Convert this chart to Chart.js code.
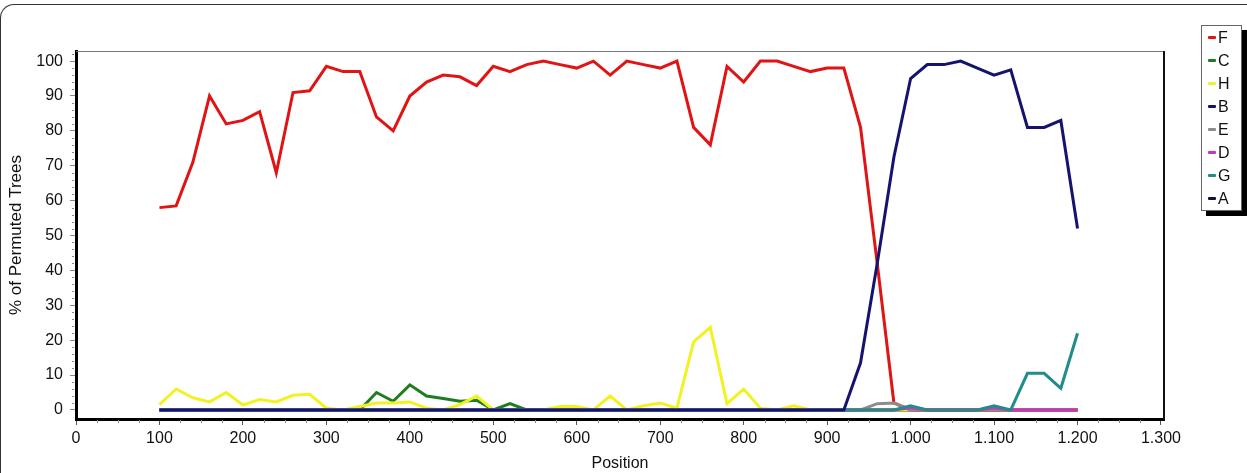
<!DOCTYPE html>
<html>
<head>
<meta charset="utf-8">
<script src="https://cdn.jsdelivr.net/npm/chart.js@4.4.1/dist/chart.umd.min.js"></script>
<style>
  html, body { margin: 0; padding: 0; background: #fff; overflow: hidden; }
  #wrap { position: relative; width: 1247px; height: 473px; }
  #frame { position: absolute; left: 0; top: 4px; width: 1300px; height: 600px;
    border-top: 1.5px solid #333; border-left: 1.5px solid #333; border-top-left-radius: 14px; }
  #legend { position: absolute; left: 1201px; top: 25px; width: 39px; height: 184px;
    border: 1px solid #666; box-shadow: 5px 5px 0 #000; background: #fff;
    font: 16px "Liberation Sans", Arial, sans-serif; color: #111; }
  .row { height: 23px; display: flex; align-items: center; }
  .mk { width: 8px; height: 3px; margin: 0 2px 0 6px; border-radius: 1px; }
  canvas { position: absolute; left: 0; top: 0; }
</style>
</head>
<body>
<div id="wrap">
  <div id="frame"></div>
  <canvas id="chart" width="1247" height="473"></canvas>
  <div id="legend"></div>
</div>
<script>
// positions along the alignment (window midpoints)
const positions = [100, 120, 140, 160, 180, 200, 220, 240, 260, 280, 300, 320, 340, 360, 380, 400, 420, 440, 460, 480,
  500, 520, 540, 560, 580, 600, 620, 640, 660, 680, 700, 720, 740, 760, 780, 800, 820, 840, 860, 880,
  900, 920, 940, 960, 980, 1000, 1020, 1040, 1060, 1080, 1100, 1120, 1140, 1160, 1180, 1200];

const seriesF = [58, 58.5, 71, 90, 82, 83, 85.5, 68, 91, 91.5, 98.5, 97, 97, 84, 80, 90, 94, 96, 95.5, 93,
  98.5, 97, 99, 100, 99, 98, 100, 96, 100, 99, 98, 100, 81, 76, 98.5, 94, 100, 100, 98.5, 97,
  98, 98, 81, 42, 2, 0, 0, 0, 0, 0, 0, 0, 0, 0, 0, 0];
const seriesC = [0, 0, 0, 0, 0, 0, 0, 0, 0, 0, 0, 0, 0, 5, 2.5, 7.2, 4, 3.3, 2.5, 2.8,
  0, 1.8, 0, 0, 0, 0, 0, 0, 0, 0, 0, 0, 0, 0, 0, 0, 0, 0, 0, 0,
  0, 0, 0, 0, 0, 0, 0, 0, 0, 0, 0, 0, 0, 0, 0, 0];
const seriesH = [1.5, 6, 3.5, 2.3, 5, 1.4, 3, 2.3, 4.2, 4.5, 0.5, 0, 1, 2, 2, 2.3, 0.5, 0, 1.5, 4,
  0, 0, 0, 0, 1, 1, 0, 4, 0, 1.2, 2, 0.5, 19.5, 23.7, 1.8, 6, 0.5, 0, 1.2, 0,
  0, 0, 0, 0, 0, 0, 0, 0, 0, 0, 0, 0, 0, 0, 0, 0];
const seriesB = [0, 0, 0, 0, 0, 0, 0, 0, 0, 0, 0, 0, 0, 0, 0, 0, 0, 0, 0, 0,
  0, 0, 0, 0, 0, 0, 0, 0, 0, 0, 0, 0, 0, 0, 0, 0, 0, 0, 0, 0,
  0, 0, 13.5, 42, 72.5, 95, 99, 99, 100, 98, 96, 97.5, 81, 81, 83, 52];
const seriesE = [0, 0, 0, 0, 0, 0, 0, 0, 0, 0, 0, 0, 0, 0, 0, 0, 0, 0, 0, 0,
  0, 0, 0, 0, 0, 0, 0, 0, 0, 0, 0, 0, 0, 0, 0, 0, 0, 0, 0, 0,
  0, 0, 0, 1.8, 2, 0, 0, 0, 0, 0, 0, 0, 0, 0, 0, 0];
const seriesD = [0, 0, 0, 0, 0, 0, 0, 0, 0, 0, 0, 0, 0, 0, 0, 0, 0, 0, 0, 0,
  0, 0, 0, 0, 0, 0, 0, 0, 0, 0, 0, 0, 0, 0, 0, 0, 0, 0, 0, 0,
  0, 0, 0, 0, 0, 0.6, 0, 0, 0, 0, 0.6, 0, 0, 0, 0, 0];
const seriesG = [0, 0, 0, 0, 0, 0, 0, 0, 0, 0, 0, 0, 0, 0, 0, 0, 0, 0, 0, 0,
  0, 0, 0, 0, 0, 0, 0, 0, 0, 0, 0, 0, 0, 0, 0, 0, 0, 0, 0, 0,
  0, 0, 0, 0, 0, 1.2, 0, 0, 0, 0, 1.2, 0, 10.5, 10.5, 6.2, 22];
const seriesA = [0, 0, 0, 0, 0, 0, 0, 0, 0, 0, 0, 0, 0, 0, 0, 0, 0, 0, 0, 0,
  0, 0, 0, 0, 0, 0, 0, 0, 0, 0, 0, 0, 0, 0, 0, 0, 0, 0, 0, 0,
  0, 0, 0, 0, 0, 0, 0, 0, 0, 0, 0, 0, 0, 0, 0, 0];

const names = ['F', 'C', 'H', 'B', 'E', 'D', 'G', 'A'];
const allSeries = [seriesF, seriesC, seriesH, seriesB, seriesE, seriesD, seriesG, seriesA];
const colors = ['#e01414', '#1e7d1e', '#f2f222', '#14146e', '#8c8c8c', '#c437c4', '#228b8b', '#101038'];
// lower = drawn on top
const drawOrder = [4, 6, 5, 0, 3, 2, 1, 7];

const yTicks = [0, 10, 20, 30, 40, 50, 60, 70, 80, 90, 100];
const xTicks = [0, 100, 200, 300, 400, 500, 600, 700, 800, 900, 1000, 1100, 1200, 1300];

function fmtThousands(v) {
  return String(v).replace(/\B(?=(\d{3})+(?!\d))/g, '.');
}

// legend box
const legend = document.getElementById('legend');
names.forEach((n, i) => {
  const row = document.createElement('div');
  row.className = 'row';
  row.innerHTML = '<span class="mk" style="background:' + colors[i] + '"></span><span>' + n + '</span>';
  legend.appendChild(row);
});

// frame on top/right of plot and small minor ticks
const framePlugin = {
  id: 'frame',
  afterDraw(chart) {
    const ctx = chart.ctx;
    const a = chart.chartArea;
    const xs = chart.scales.x, ys = chart.scales.y;
    ctx.save();
    ctx.strokeStyle = '#777';
    ctx.lineWidth = 1;
    ctx.beginPath();
    ctx.moveTo(a.left, a.top + 0.5);
    ctx.lineTo(a.right, a.top + 0.5);
    ctx.stroke();
    ctx.strokeStyle = '#111';
    ctx.lineWidth = 2;
    ctx.beginPath();
    ctx.moveTo(a.right, a.top);
    ctx.lineTo(a.right, a.bottom);
    ctx.stroke();
    // minor ticks
    ctx.strokeStyle = '#888';
    ctx.lineWidth = 1;
    ctx.beginPath();
    for (let v = 25; v < 1300; v += 25) {
      if (v % 100 === 0) continue;
      const px = Math.round(xs.getPixelForValue(v)) + 0.5;
      ctx.moveTo(px, a.bottom + 1);
      ctx.lineTo(px, a.bottom + 4);
    }
    for (let v = 0; v <= 102; v += 2) {
      if (v % 10 === 0) continue;
      const py = Math.round(ys.getPixelForValue(v)) + 0.5;
      ctx.moveTo(a.left - 4, py);
      ctx.lineTo(a.left - 2, py);
    }
    ctx.stroke();
    ctx.restore();
  }
};

Chart.defaults.font.family = '"Liberation Sans", Arial, sans-serif';
Chart.defaults.font.size = 16;
Chart.defaults.color = '#111';

new Chart(document.getElementById('chart'), {
  type: 'line',
  data: {
    datasets: names.map((n, i) => ({
      label: n,
      data: positions.map((x, k) => ({ x: x, y: allSeries[i][k] })),
      borderColor: colors[i],
      backgroundColor: colors[i],
      borderWidth: 3,
      pointRadius: 0,
      tension: 0,
      fill: false,
      order: drawOrder[i]
    }))
  },
  options: {
    responsive: false,
    animation: false,
    layout: { padding: { left: 0, right: 83, top: 51, bottom: 0 } },
    plugins: { legend: { display: false }, tooltip: { enabled: false } },
    scales: {
      x: {
        type: 'linear',
        min: 0,
        max: 1303.6,
        afterBuildTicks(s) { s.ticks = xTicks.map(v => ({ value: v })); },
        afterFit(s) { s.height = 54; },
        ticks: { padding: 4, maxRotation: 0, callback: v => fmtThousands(v) },
        grid: { drawOnChartArea: false, tickLength: 6, tickColor: '#555' },
        border: { color: '#000', width: 3 },
        title: { display: true, text: 'Position', font: { size: 16 }, padding: 0 }
      },
      y: {
        min: -2.6,
        max: 102.9,
        afterBuildTicks(s) { s.ticks = yTicks.map(v => ({ value: v })); },
        afterFit(s) { s.width = 76; },
        ticks: { padding: 7 },
        grid: { drawOnChartArea: false, tickLength: 6, tickColor: '#888' },
        border: { color: '#000', width: 3 },
        title: { display: true, text: '% of Permuted Trees', font: { size: 17 }, padding: { top: 6, bottom: 0 } }
      }
    }
  },
  plugins: [framePlugin]
});
</script>
</body>
</html>
